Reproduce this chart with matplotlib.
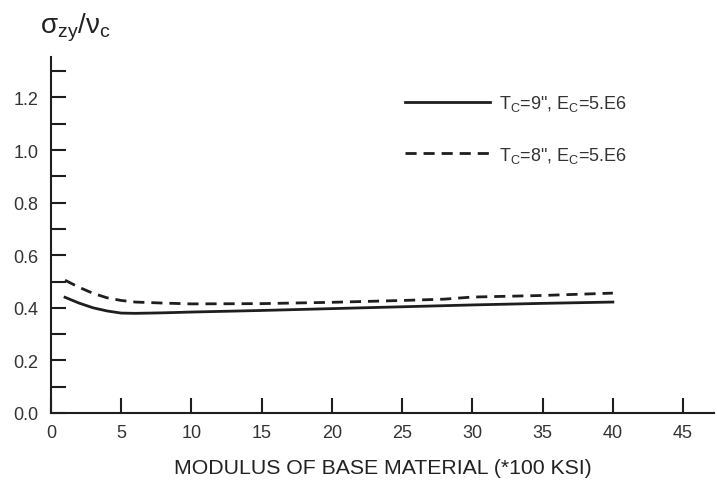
import matplotlib
matplotlib.use("Agg")
import matplotlib.pyplot as plt
from matplotlib.ticker import MultipleLocator

plt.rcParams['font.family'] = ['Liberation Sans', 'DejaVu Sans']
plt.rcParams['mathtext.fontset'] = 'custom'
plt.rcParams['mathtext.rm'] = 'Liberation Sans'
plt.rcParams['mathtext.it'] = 'Liberation Sans'
plt.rcParams['mathtext.default'] = 'regular'
plt.rcParams['lines.scale_dashes'] = False

# Stress ratio vs. base-material modulus for two concrete thicknesses
modulus_9in = [1, 2, 3, 4, 5, 6, 8, 10, 15, 20, 25, 30, 35, 40]
ratio_9in = [0.440, 0.418, 0.400, 0.388, 0.380, 0.379, 0.381, 0.384,
             0.390, 0.397, 0.404, 0.411, 0.417, 0.422]

modulus_8in = [1, 2, 3, 4, 5, 6, 8, 10, 15, 20, 25, 28, 30, 35, 40]
ratio_8in = [0.505, 0.478, 0.455, 0.438, 0.428, 0.422, 0.418, 0.415,
             0.416, 0.421, 0.428, 0.433, 0.441, 0.447, 0.456]

label_9in = 'T$_C$=9", E$_C$=5.E6'
label_8in = 'T$_C$=8", E$_C$=5.E6'

x_ticks = [0, 5, 10, 15, 20, 25, 30, 35, 40, 45]
y_ticks = [0.0, 0.2, 0.4, 0.6, 0.8, 1.0, 1.2]

fig = plt.figure(figsize=(7.17, 4.85), dpi=100)
ax = fig.add_axes([51 / 717, 71 / 485, 663 / 717, 356 / 485])

ink = '#1e1e1e'
ax.plot(modulus_9in, ratio_9in, color=ink, lw=2.0, label=label_9in)
ax.plot(modulus_8in, ratio_8in, color=ink, lw=2.0, dashes=(8, 5),
        label=label_8in)

ax.set_xlim(0, 47.2)
ax.set_ylim(0, 1.354)
ax.set_xticks(x_ticks)
ax.set_yticks(y_ticks)
ax.set_yticklabels([f'{v:.1f}' for v in y_ticks])
ax.yaxis.set_minor_locator(MultipleLocator(0.1))

for side in ('top', 'right'):
    ax.spines[side].set_visible(False)
for side in ('left', 'bottom'):
    ax.spines[side].set_linewidth(1.5)
    ax.spines[side].set_color(ink)

ax.tick_params(axis='both', which='both', direction='in', length=11,
               width=1.5, color=ink, labelsize=13, labelcolor='#333333')
ax.tick_params(axis='y', pad=9)
ax.tick_params(axis='x', pad=8)

ax.set_xlabel('MODULUS OF BASE MATERIAL (*100 KSI)', fontsize=15.3,
              color='#222222', labelpad=12)

fig.text(40 / 717, 1 - 34 / 485, r'$\sigma_{zy}/\nu_c$', fontsize=20,
         color='#222222', va='baseline', ha='left')

ax.legend(loc='upper left', bbox_to_anchor=(0.51, 0.944), frameon=False,
          fontsize=13, handlelength=4.7, handletextpad=0.5,
          labelspacing=1.75, labelcolor='#333333')

fig.savefig('out.png', dpi=100)
